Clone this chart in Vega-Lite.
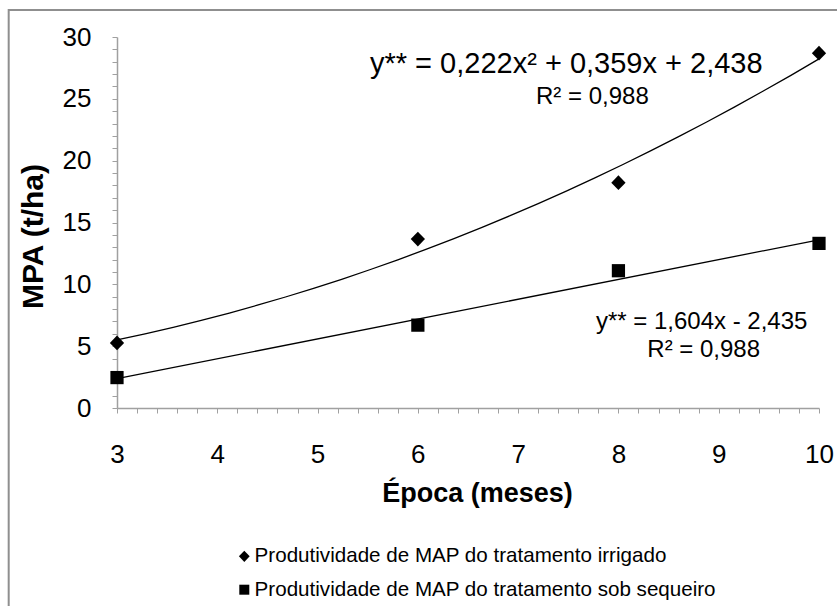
{
  "$schema": "https://vega.github.io/schema/vega-lite/v6.json",
  "width": 702,
  "height": 371,
  "autosize": "none",
  "padding": {"left": 117, "top": 37, "right": 18, "bottom": 198},
  "background": "white",
  "config": {
    "view": {"stroke": null},
    "font": "Liberation Sans",
    "text": {"font": "Liberation Sans"}
  },
  "resolve": {"axis": {"x": "independent", "y": "independent"}},
  "datasets": {
    "producao": [
      {"epoca": 3, "mpa": 5.26, "serie": "Produtividade de MAP do tratamento irrigado"},
      {"epoca": 6, "mpa": 13.66, "serie": "Produtividade de MAP do tratamento irrigado"},
      {"epoca": 8, "mpa": 18.22, "serie": "Produtividade de MAP do tratamento irrigado"},
      {"epoca": 10, "mpa": 28.69, "serie": "Produtividade de MAP do tratamento irrigado"},
      {"epoca": 3, "mpa": 2.46, "serie": "Produtividade de MAP do tratamento sob sequeiro"},
      {"epoca": 6, "mpa": 6.70, "serie": "Produtividade de MAP do tratamento sob sequeiro"},
      {"epoca": 8, "mpa": 11.10, "serie": "Produtividade de MAP do tratamento sob sequeiro"},
      {"epoca": 10, "mpa": 13.31, "serie": "Produtividade de MAP do tratamento sob sequeiro"}
    ],
    "equacao_irrigado": [
      {"epoca": 7.48, "mpa": 27.83, "texto": "y** = 0,222x² + 0,359x + 2,438"}
    ],
    "coeficientes": [
      {"epoca": 7.74, "mpa": 25.13, "texto": "R² = 0,988"},
      {"epoca": 8.83, "mpa": 6.98, "texto": "y** = 1,604x - 2,435"},
      {"epoca": 8.85, "mpa": 4.72, "texto": "R² = 0,988"}
    ]
  },
  "layer": [
    {
      "data": {"name": "producao"},
      "transform": [
        {"filter": "datum.serie === 'Produtividade de MAP do tratamento irrigado'"},
        {"regression": "mpa", "on": "epoca", "method": "poly", "order": 2, "extent": [3, 10]}
      ],
      "mark": {"type": "line", "color": "black", "strokeWidth": 1.3},
      "encoding": {
        "x": {
          "field": "epoca",
          "type": "quantitative",
          "scale": {"domain": [3, 10], "nice": false, "zero": false},
          "axis": {
            "title": "Época (meses)",
            "grid": false,
            "values": [3, 3.2, 3.4, 3.6, 3.8, 4, 4.2, 4.4, 4.6, 4.8, 5, 5.2, 5.4, 5.6, 5.8, 6, 6.2, 6.4, 6.6, 6.8, 7, 7.2, 7.4, 7.6, 7.8, 8, 8.2, 8.4, 8.6, 8.8, 9, 9.2, 9.4, 9.6, 9.8, 10],
            "labelExpr": "datum.value % 1 === 0 ? format(datum.value, 'd') : ''",
            "labelOverlap": false,
            "labelFlush": false,
            "labelBound": false,
            "labelFont": "Liberation Sans",
            "labelFontSize": 26,
            "labelColor": "black",
            "labelPadding": 28,
            "tickSize": 5,
            "tickColor": "#a0a0a0",
            "domainColor": "#a0a0a0",
            "domainWidth": 1.5,
            "titleFont": "Liberation Sans",
            "titleFontSize": 27,
            "titleFontWeight": "bold",
            "titleColor": "black",
            "titlePadding": 13,
            "titleX": 360
          }
        },
        "y": {
          "field": "mpa",
          "type": "quantitative",
          "scale": {"domain": [0, 30], "nice": false, "zero": false},
          "axis": {
            "title": "MPA (t/ha)",
            "grid": false,
            "values": [0, 1, 2, 3, 4, 5, 6, 7, 8, 9, 10, 11, 12, 13, 14, 15, 16, 17, 18, 19, 20, 21, 22, 23, 24, 25, 26, 27, 28, 29, 30],
            "labelExpr": "datum.value % 5 === 0 ? format(datum.value, 'd') : ''",
            "labelOverlap": false,
            "labelFlush": false,
            "labelBound": false,
            "labelFont": "Liberation Sans",
            "labelFontSize": 26,
            "labelColor": "black",
            "labelPadding": 21,
            "tickSize": 5,
            "tickColor": "#a0a0a0",
            "domainColor": "#a0a0a0",
            "domainWidth": 1.5,
            "titleFont": "Liberation Sans",
            "titleFontSize": 30,
            "titleFontWeight": "bold",
            "titleColor": "black",
            "titlePadding": 14,
            "titleY": 199
          }
        }
      }
    },
    {
      "data": {"name": "producao"},
      "transform": [
        {"filter": "datum.serie === 'Produtividade de MAP do tratamento sob sequeiro'"},
        {"regression": "mpa", "on": "epoca", "method": "linear", "extent": [3, 10]}
      ],
      "mark": {"type": "line", "color": "black", "strokeWidth": 1.3},
      "encoding": {
        "x": {"field": "epoca", "type": "quantitative", "axis": null},
        "y": {"field": "mpa", "type": "quantitative", "axis": null}
      }
    },
    {
      "data": {"name": "producao"},
      "mark": {"type": "point", "filled": true, "color": "black", "opacity": 1, "size": 175},
      "encoding": {
        "x": {"field": "epoca", "type": "quantitative", "axis": null},
        "y": {"field": "mpa", "type": "quantitative", "axis": null},
        "shape": {
          "field": "serie",
          "type": "nominal",
          "scale": {
            "domain": ["Produtividade de MAP do tratamento irrigado", "Produtividade de MAP do tratamento sob sequeiro"],
            "range": ["M-1.08,0L0,-1.12L1.08,0L0,1.12Z", "square"]
          },
          "legend": {
            "title": null,
            "orient": "none",
            "legendX": 117,
            "legendY": 509,
            "direction": "vertical",
            "padding": 0,
            "labelFont": "Liberation Sans",
            "labelFontSize": 20.6,
            "labelColor": "black",
            "labelLimit": 600,
            "labelOffset": 0,
            "symbolSize": 100,
            "symbolFillColor": "black",
            "symbolStrokeColor": "black",
            "symbolStrokeWidth": 0,
            "rowPadding": 12.4
          }
        }
      }
    },
    {
      "data": {"name": "equacao_irrigado"},
      "mark": {"type": "text", "font": "Liberation Sans", "fontSize": 29, "color": "black", "align": "center", "baseline": "middle"},
      "encoding": {
        "x": {"field": "epoca", "type": "quantitative", "axis": null},
        "y": {"field": "mpa", "type": "quantitative", "axis": null},
        "text": {"field": "texto", "type": "nominal"}
      }
    },
    {
      "data": {"name": "coeficientes"},
      "mark": {"type": "text", "font": "Liberation Sans", "fontSize": 24, "color": "black", "align": "center", "baseline": "middle"},
      "encoding": {
        "x": {"field": "epoca", "type": "quantitative", "axis": null},
        "y": {"field": "mpa", "type": "quantitative", "axis": null},
        "text": {"field": "texto", "type": "nominal"}
      }
    },
    {
      "data": {"values": [{"borda": "topo"}]},
      "mark": {"type": "rule", "color": "#8f8f8f", "strokeWidth": 2},
      "encoding": {
        "x": {"datum": 1.92, "type": "quantitative", "axis": null},
        "x2": {"datum": 10.5},
        "y": {"datum": 32.18, "type": "quantitative", "axis": null}
      }
    },
    {
      "data": {"values": [{"borda": "esquerda"}]},
      "mark": {"type": "rule", "color": "#8f8f8f", "strokeWidth": 2},
      "encoding": {
        "x": {"datum": 1.92, "type": "quantitative", "axis": null},
        "y": {"datum": 32.26, "type": "quantitative", "axis": null},
        "y2": {"datum": -20}
      }
    }
  ]
}
